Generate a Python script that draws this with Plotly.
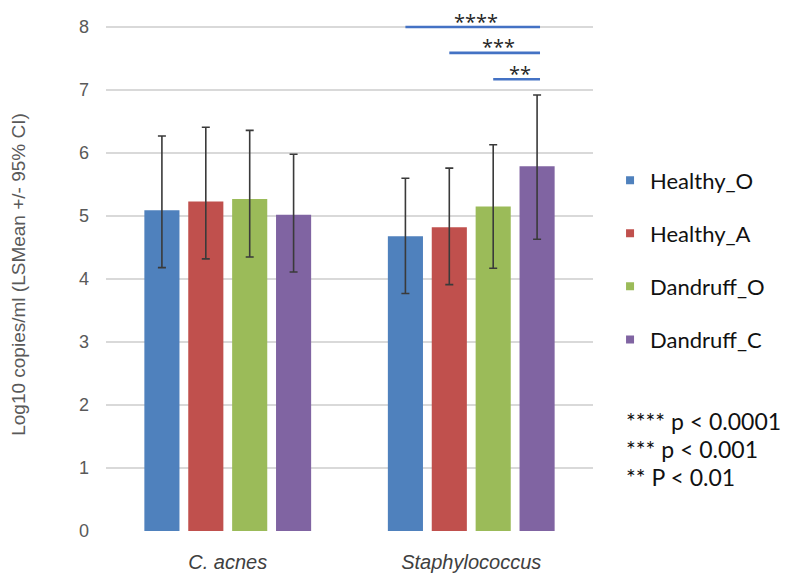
import plotly.graph_objects as go

# ---- data ----
categories = ["C. acnes", "Staphylococcus"]
series_names = ["Healthy_O", "Healthy_A", "Dandruff_O", "Dandruff_C"]
colors = ["#4F81BD", "#C0504D", "#9BBB59", "#8064A2"]

healthy_o_mean = [5.09, 4.68]
healthy_o_upper = [6.27, 5.60]
healthy_o_lower = [4.18, 3.77]

healthy_a_mean = [5.23, 4.82]
healthy_a_upper = [6.41, 5.76]
healthy_a_lower = [4.32, 3.91]

dandruff_o_mean = [5.27, 5.15]
dandruff_o_upper = [6.36, 6.13]
dandruff_o_lower = [4.35, 4.17]

dandruff_c_mean = [5.02, 5.79]
dandruff_c_upper = [5.98, 6.92]
dandruff_c_lower = [4.11, 4.63]

means = [healthy_o_mean, healthy_a_mean, dandruff_o_mean, dandruff_c_mean]
uppers = [healthy_o_upper, healthy_a_upper, dandruff_o_upper, dandruff_c_upper]
lowers = [healthy_o_lower, healthy_a_lower, dandruff_o_lower, dandruff_c_lower]

# significance comparisons within Staphylococcus: (from series, to series, label, bracket level)
sig_from = [0, 1, 2]
sig_to = [3, 3, 3]
sig_labels = ["****", "***", "**"]
sig_levels = [8.0, 7.59, 7.17]
sig_category = 1

pvalue_notes = ["**** p < 0.0001", "*** p < 0.001", "** P < 0.01"]

y_ticks = [0, 1, 2, 3, 4, 5, 6, 7, 8]

# ---- figure ----
BARGAP = 0.279
fig = go.Figure()
for name, col, m, up, lo in zip(series_names, colors, means, uppers, lowers):
    fig.add_trace(go.Bar(
        x=categories, y=m, name=name, marker=dict(color=col, line=dict(width=0)),
        showlegend=False,
        error_y=dict(type="data", symmetric=False,
                     array=[u - v for u, v in zip(up, m)],
                     arrayminus=[v - l for l, v in zip(lo, m)],
                     color="#3a3a3a", thickness=1.6, width=4),
    ))
# legend entries with small square markers
for name, col in zip(series_names, colors):
    fig.add_trace(go.Scatter(
        x=[None], y=[None], mode="markers", name=name, legendgroup=name,
        marker=dict(symbol="square", size=8, color=col),
    ))

n = len(series_names)
group_w = 1 - BARGAP
slot = group_w / n
def bar_center(cat_idx, s_idx):
    return cat_idx - group_w / 2 + slot * (s_idx + 0.5)

# pixel helpers for layout placement (page is offset by the 8px body margin)
PLOT_TOP_PX, PLOT_BOTTOM_PX = 17.5, 531.0
def paper_y(px):
    return (PLOT_BOTTOM_PX - px) / (PLOT_BOTTOM_PX - PLOT_TOP_PX)

shapes = []
annotations = []
for f, t, lab, lev in zip(sig_from, sig_to, sig_labels, sig_levels):
    x0 = bar_center(sig_category, f)
    x1 = bar_center(sig_category, t)
    shapes.append(dict(type="line", xref="x", yref="y", x0=x0, x1=x1 + 0.012,
                       y0=lev, y1=lev, line=dict(color="#4472C4", width=2.6)))
    annotations.append(dict(x=(x0 + x1) / 2, y=lev, xref="x", yref="y", text=lab,
                            showarrow=False, xanchor="center", yanchor="bottom",
                            xshift=5, yshift=-8.5, borderpad=0,
                            font=dict(family="Open Sans", size=20, color="#262626")))

note_y = [paper_y(421), paper_y(449), paper_y(476.5)]
for txt, yy in zip(pvalue_notes, note_y):
    annotations.append(dict(x=1.0637, y=yy, xref="paper", yref="paper", text=txt,
                            showarrow=False, xanchor="left", yanchor="middle",
                            font=dict(family="Lato", size=23, color="#111111")))

fig.update_layout(
    width=800, height=581,
    margin=dict(l=98, r=215, t=10, b=58, autoexpand=False),
    paper_bgcolor="white", plot_bgcolor="white",
    barmode="group", bargap=BARGAP, bargroupgap=0.2,
    shapes=shapes, annotations=annotations,
    legend=dict(x=1.035, y=paper_y(159), xanchor="left", yanchor="top",
                font=dict(family="Lato", size=22, color="#111111"),
                tracegroupgap=21.5, itemsizing="trace", bgcolor="rgba(0,0,0,0)"),
    xaxis=dict(type="category", showgrid=False, zeroline=False, showline=False,
               ticks="", ticklabelstandoff=17,
               tickfont=dict(family="Arial, Liberation Sans", size=20, color="#404040", style="italic")),
    yaxis=dict(range=[0, 8.143], tickvals=y_ticks, showgrid=True, gridcolor="#D9D9D9", gridwidth=1.5,
               zeroline=False, showline=False, ticks="", ticklabelstandoff=16,
               tickfont=dict(family="Arial, Liberation Sans", size=18, color="#595959"),
               title=dict(text="Log10 copies/ml (LSMean +/- 95% CI)", standoff=57,
                          font=dict(family="Arial, Liberation Sans", size=19, color="#595959"))),
)
fig.write_html("out.html")
